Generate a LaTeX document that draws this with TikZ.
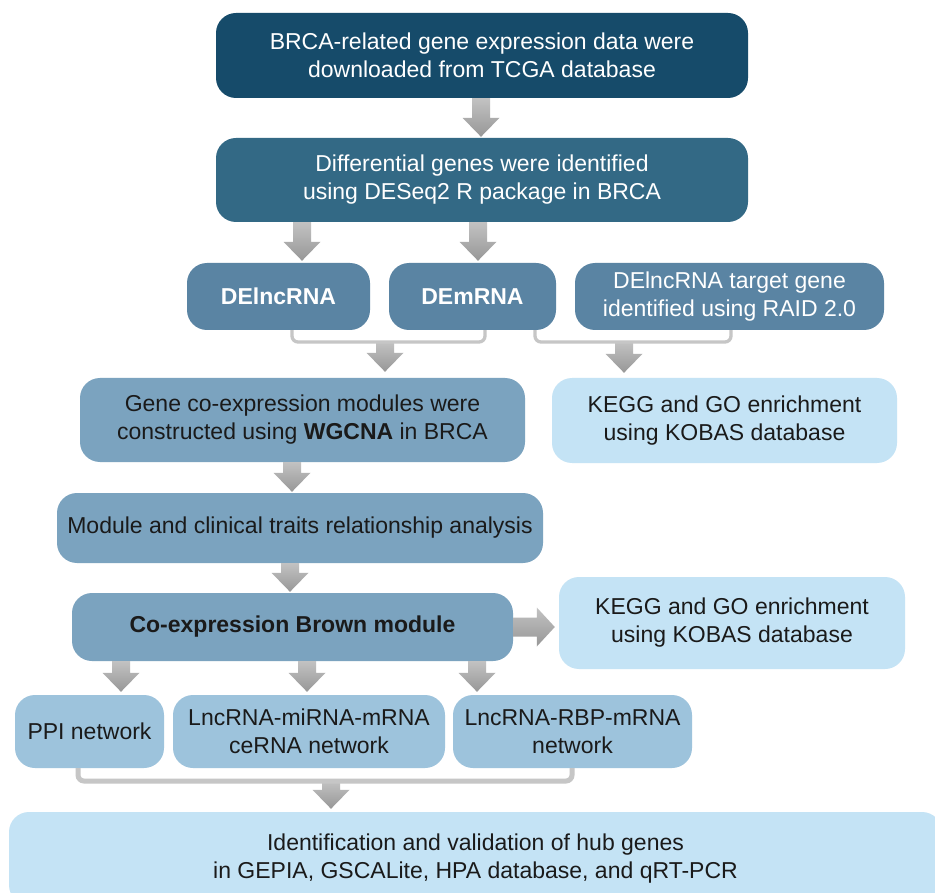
\documentclass[tikz,border=0pt]{standalone}
\usepackage{fontspec}
\setmainfont{Liberation Sans}
\usetikzlibrary{calc}
\definecolor{cA}{HTML}{164B6A}
\definecolor{cB}{HTML}{336985}
\definecolor{cC}{HTML}{5A84A3}
\definecolor{cD}{HTML}{7BA3BF}
\definecolor{cE}{HTML}{9DC3DC}
\definecolor{cF}{HTML}{C4E3F5}
\definecolor{txtdark}{HTML}{1A1A1A}
\definecolor{arrTop}{HTML}{C2C2C2}
\definecolor{arrBot}{HTML}{979797}
\definecolor{brk}{HTML}{C6C6C6}
\tikzset{
  box/.style={rectangle, rounded corners=20pt, inner sep=0pt, align=center,
    font=\fontsize{23}{28}\selectfont, anchor=center},
  darkbox/.style={box, fill=cA, text=white},
  midbox/.style={box, fill=cB, text=white},
  debox/.style={box, fill=cC, text=white},
  modbox/.style={box, fill=cD, text=txtdark},
  netbox/.style={box, fill=cE, text=txtdark},
  lightbox/.style={box, fill=cF, text=txtdark},
  arrowfill/.style={top color=arrTop, bottom color=arrBot, draw=none},
  bracketline/.style={draw=brk, line width=3.3pt, rounded corners=6pt},
}
\newcommand{\varr}[3]{%
  \shade[arrowfill] let \p1=#1, \p2=#2 in
  ({\x1-9pt},\y1) -- ({\x1+9pt},\y1) -- ({\x1+9pt},{\y2+#3+19pt})
  -- ({\x1+18.5pt},{\y2+#3+19pt}) -- (\x1,{\y2+#3})
  -- ({\x1-18.5pt},{\y2+#3+19pt}) -- ({\x1-9pt},{\y2+#3+19pt}) -- cycle;}
\newcommand{\harr}[3]{%
  \shade[arrowfill] let \p1=#1, \p2=#2 in
  (\x1,{\y1+9.5pt}) -- ({\x2-#3-18pt},{\y1+9.5pt}) -- ({\x2-#3-18pt},{\y1+19.5pt})
  -- ({\x2-#3},\y1) -- ({\x2-#3-18pt},{\y1-19.5pt}) -- ({\x2-#3-18pt},{\y1-9.5pt})
  -- (\x1,{\y1-9.5pt}) -- cycle;}
\begin{document}
\begin{tikzpicture}[x=1pt,y=-1pt]
\useasboundingbox (0,0) rectangle (935,893);
\clip (0,0) rectangle (935,893);
\fill[white] (0,0) rectangle (935,893);

\node[darkbox, minimum width=532pt, minimum height=85pt] (b1) at (482,55.5)
  {BRCA-related gene expression data were\\downloaded from TCGA database};
\node[midbox, minimum width=532pt, minimum height=84pt] (b2) at (482,180)
  {Differential genes were identified\\using DESeq2 R package in BRCA};
\node[debox, minimum width=183pt, minimum height=67pt] (de1) at (278.5,296.5)
  {\bfseries DElncRNA};
\node[debox, minimum width=167pt, minimum height=67pt] (de2) at (472.5,296.5)
  {\bfseries DEmRNA};
\node[debox, minimum width=309pt, minimum height=67pt] (tg) at (729.5,296.5)
  {DElncRNA target gene\\identified using RAID 2.0};
\node[modbox, minimum width=445pt, minimum height=84pt] (gene) at (302.5,420)
  {Gene co-expression modules were\\constructed using \textbf{WGCNA} in BRCA};
\node[lightbox, minimum width=345pt, minimum height=85pt] (kegg1) at (724.5,420.5)
  {KEGG and GO enrichment\\using KOBAS database};
\node[modbox, minimum width=486pt, minimum height=70pt] (mod) at (300,528)
  {Module and clinical traits relationship analysis};
\node[modbox, minimum width=441pt, minimum height=68pt] (brown) at (292.5,627)
  {\bfseries Co-expression Brown module};
\node[lightbox, minimum width=346pt, minimum height=92pt] (kegg2) at (732,623)
  {KEGG and GO enrichment\\using KOBAS database};
\node[netbox, minimum width=149pt, minimum height=73pt] (ppi) at (89.5,731.5)
  {PPI network};
\node[netbox, minimum width=272pt, minimum height=73pt] (ce) at (309,731.5)
  {LncRNA-miRNA-mRNA\\ceRNA network};
\node[netbox, minimum width=239pt, minimum height=73pt] (rbp) at (572.5,731.5)
  {LncRNA-RBP-mRNA\\network};
\node[lightbox, minimum width=933pt, minimum height=93pt] (hub) at (475.5,858.5)
  {Identification and validation of hub genes\\in GEPIA, GSCALite, HPA database, and qRT-PCR};

\coordinate (br1) at (385,342);
\coordinate (br2) at (624,342);
\coordinate (br3) at (331,781);

\varr{(481,0 |- b1.south)}{(481,0 |- b2.north)}{1pt}
\varr{(302,0 |- b2.south)}{(302,0 |- de1.north)}{2pt}
\varr{(478,0 |- b2.south)}{(478,0 |- de2.north)}{2pt}
\varr{(br1)}{(br1 |- gene.north)}{6pt}
\varr{(br2)}{(br2 |- kegg1.north)}{5pt}
\varr{(292,0 |- gene.south)}{(292,0 |- mod.north)}{1pt}
\varr{(290,0 |- mod.south)}{(290,0 |- brown.north)}{1pt}
\harr{(brown.east)}{(kegg2.west)}{4pt}
\varr{(121,0 |- brown.south)}{(121,0 |- ppi.north)}{3pt}
\varr{(307,0 |- brown.south)}{(307,0 |- ce.north)}{3pt}
\varr{(477,0 |- brown.south)}{(477,0 |- rbp.north)}{3pt}
\varr{(br3)}{(br3 |- hub.north)}{3pt}

\draw[bracketline] (292,0 |- de1.south) -- (292,342) -- (485,342) -- (485,0 |- de2.south);
\draw[bracketline] (535,0 |- de2.south) -- (535,342) -- (731,342) -- (731,0 |- tg.south);
\draw[bracketline, line width=5pt] (78,0 |- ppi.south) -- (78,781) -- (572,781) -- (572,0 |- rbp.south);
\end{tikzpicture}
\end{document}
